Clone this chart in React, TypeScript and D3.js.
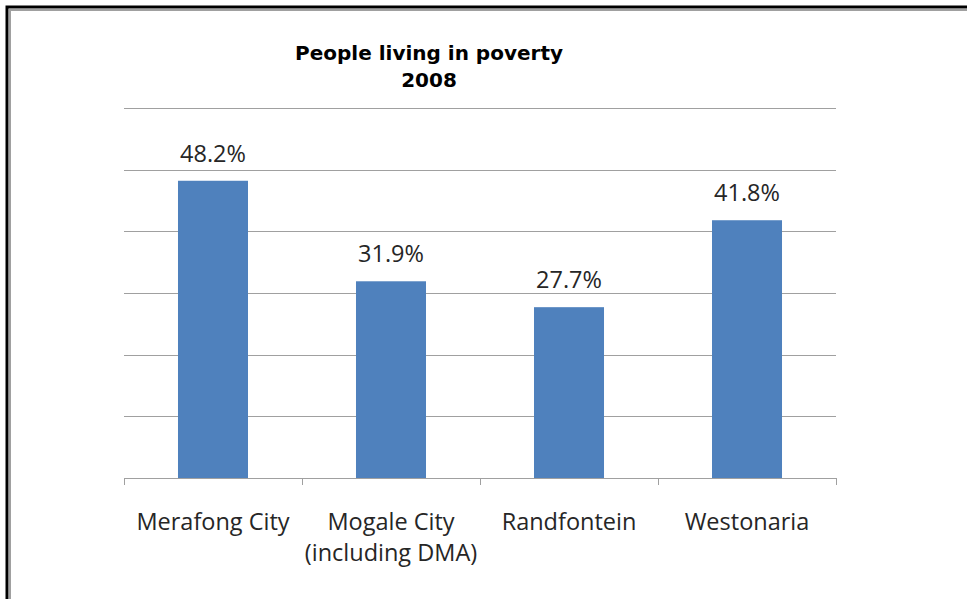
import React from "react";
import * as d3 from "d3";

const categories = ["Merafong City", "Mogale City\n(including DMA)", "Randfontein", "Westonaria"];
const values = [48.2, 31.9, 27.7, 41.8];
const valueLabels = ["48.2%", "31.9%", "27.7%", "41.8%"];
const gridTicks = [0, 10, 20, 30, 40, 50, 60];
const titleLines = ["People living in poverty", "2008"];

export default function App() {
  const W = 967, H = 599;
  const left = 124, right = 836, top = 108, bottom = 478;
  const x = d3.scaleBand<number>().domain(d3.range(categories.length)).range([left, right]).paddingInner(0.6067).paddingOuter(0.3033);
  const y = d3.scaleLinear().domain([0, 60]).range([bottom, top]);
  const band = (right - left) / categories.length;
  const labelFont = "'Open Sans', 'Noto Sans', sans-serif";
  return (
    <svg width={W} height={H} style={{ position: "absolute", left: 0, top: 0 }}>
      <rect x={0} y={0} width={W} height={H} fill="#fff" />
      <rect x={7} y={7} width={W + 20} height={H + 20} fill="none" stroke="#000" strokeWidth={3} />
      <rect x={10} y={10} width={W + 20} height={H + 20} fill="none" stroke="#a0a0a0" strokeWidth={2} />
      {titleLines.map((t, i) => (
        <text key={i} x={429} y={60 + i * 27} textAnchor="middle" fontFamily="'DejaVu Sans', sans-serif" fontWeight="bold" fontSize={20} fill="#000">{t}</text>
      ))}
      {gridTicks.map((t) => (
        <line key={t} x1={left} x2={right} y1={Math.round(y(t)) + 0.5} y2={Math.round(y(t)) + 0.5} stroke="#a0a0a0" strokeWidth={1} />
      ))}
      {d3.range(categories.length + 1).map((i) => (
        <line key={i} x1={left + i * band + 0.5} x2={left + i * band + 0.5} y1={bottom} y2={bottom + 7} stroke="#a0a0a0" strokeWidth={1} />
      ))}
      {values.map((v, i) => (
        <rect key={i} x={x(i)} y={y(v)} width={x.bandwidth()} height={bottom - y(v)} fill="#4F81BD" />
      ))}
      {values.map((v, i) => (
        <text key={i} x={(x(i) as number) + x.bandwidth() / 2} y={y(v) - 19} textAnchor="middle" fontFamily={labelFont} fontSize={23.5} fill="#262626">{valueLabels[i]}</text>
      ))}
      {categories.map((c, i) => (
        <text key={i} x={left + (i + 0.5) * band} y={530} textAnchor="middle" fontFamily={labelFont} fontSize={23.5} fill="#262626">
          {c.split("\n").map((l, j) => (
            <tspan key={j} x={left + (i + 0.5) * band} dy={j === 0 ? 0 : 31}>{l}</tspan>
          ))}
        </text>
      ))}
    </svg>
  );
}
